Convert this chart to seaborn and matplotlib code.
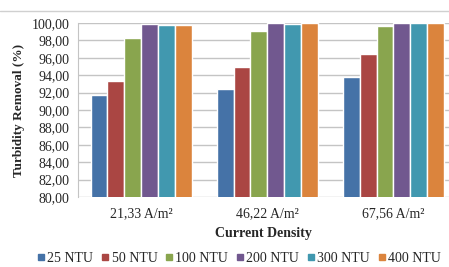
import pandas as pd
import numpy as np
import matplotlib
matplotlib.use("Agg")
import matplotlib.pyplot as plt
from matplotlib.lines import Line2D
from matplotlib.ticker import FuncFormatter, MultipleLocator
import seaborn as sns

# data
densities = ["21,33 A/m²", "46,22 A/m²", "67,56 A/m²"]
series = ["25 NTU", "50 NTU", "100 NTU", "200 NTU", "300 NTU", "400 NTU"]
ntu_25 = [91.7, 92.4, 93.8]
ntu_50 = [93.3, 94.9, 96.4]
ntu_100 = [98.3, 99.1, 99.6]
ntu_200 = [99.85, 100.0, 100.0]
ntu_300 = [99.8, 99.85, 100.0]
ntu_400 = [99.8, 100.0, 100.0]
colors = ["#4572A7", "#AA4643", "#89A54E", "#71588F", "#4198AF", "#DB843D"]

rows = []
for name, vals in zip(series, [ntu_25, ntu_50, ntu_100, ntu_200, ntu_300, ntu_400]):
    for d, v in zip(densities, vals):
        rows.append({"Current Density": d, "NTU": name, "Removal": v})
df = pd.DataFrame(rows)

sns.set_style("white")
plt.rcParams["font.family"] = ["Liberation Serif", "DejaVu Serif"]

fig = plt.figure(figsize=(4.49, 2.67), dpi=100)
ax = fig.add_axes([78 / 449, 1 - 197 / 267, 1 - 78 / 449, (197 - 23) / 267])

sns.barplot(data=df, x="Current Density", y="Removal", hue="NTU",
            palette=colors, width=0.8, saturation=1, ax=ax, zorder=3)

ax.set_ylim(80, 100)
ax.set_xlim(-0.5, 2.44)
ax.yaxis.set_major_locator(MultipleLocator(2))
ax.yaxis.set_major_formatter(FuncFormatter(lambda v, p: f"{v:.2f}".replace(".", ",")))
ax.grid(axis="y", color="#c4c4c4", linewidth=1, zorder=0)
for s in ["top", "right", "bottom"]:
    ax.spines[s].set_visible(False)
ax.spines["left"].set_color("#c4c4c4")
ax.tick_params(axis="y", length=4, color="#c4c4c4", labelsize=10, pad=2)
ax.tick_params(axis="x", length=0, labelsize=10, pad=7)

ax.set_xlabel("Current Density", fontsize=10, fontweight="bold", labelpad=5)
ax.set_ylabel("Turbidity Removal (%)", fontsize=9.5, fontweight="bold", labelpad=5)

handles = [Line2D([], [], marker="s", linestyle="", color=c, markersize=5) for c in colors]
ax.get_legend().remove()
fig.legend(handles, series, loc="center", bbox_to_anchor=(239 / 449, 1 - 258 / 267),
           ncol=6, frameon=False, fontsize=10, handlelength=0.6, handletextpad=0.15,
           columnspacing=0.55, borderaxespad=0)

# chart border line above plot area
fig.add_artist(Line2D([0, 1], [1 - 11 / 267, 1 - 11 / 267], color="#d0d0d0", linewidth=1,
                      transform=fig.transFigure))

fig.savefig("out.png", dpi=100)
